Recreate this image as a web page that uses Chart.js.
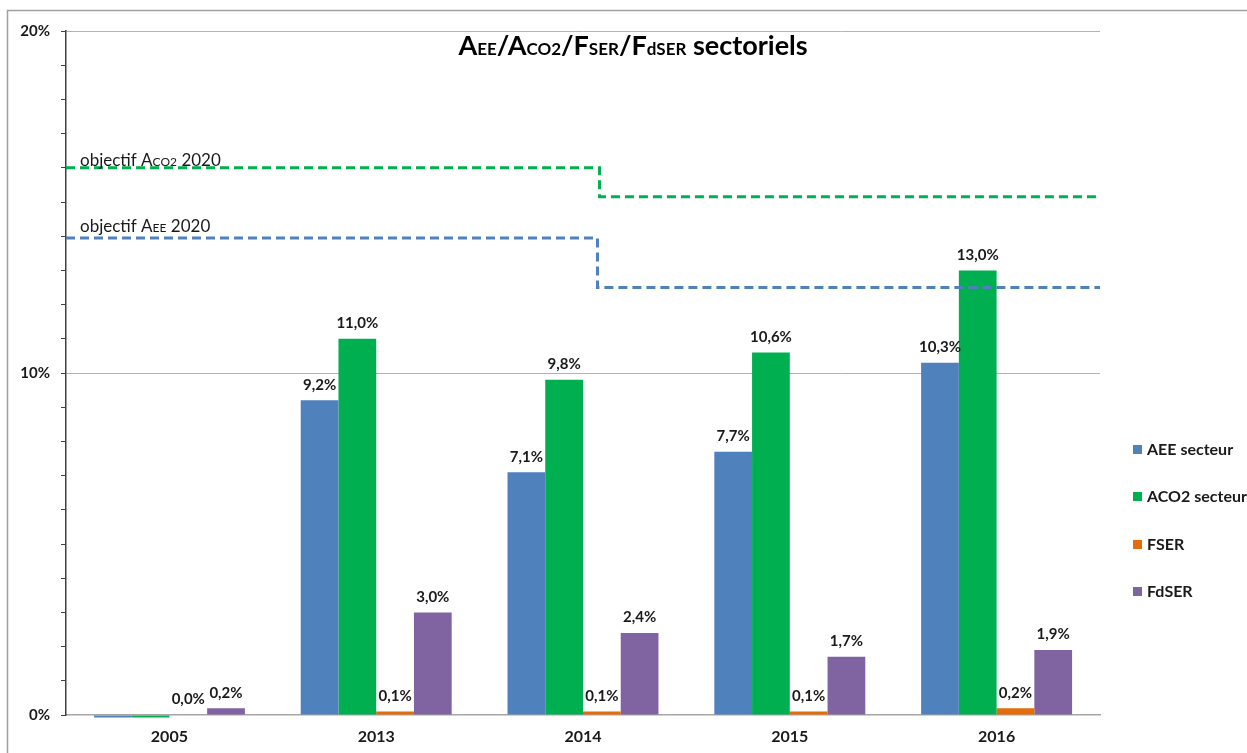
<!DOCTYPE html>
<html>
<head>
<meta charset="utf-8">
<script src="https://cdn.jsdelivr.net/npm/chart.js@4.4.1/dist/chart.umd.min.js"></script>
<style>
  html, body { margin: 0; padding: 0; background: #fff; }
  #wrap { width: 1247px; height: 753px; position: relative; }
</style>
</head>
<body>
<div id="wrap"><canvas id="chart" width="1247" height="753"></canvas></div>
<script>
'use strict';

const years = ['2005', '2013', '2014', '2015', '2016']
const aeeData = [-0.07, 9.2, 7.1, 7.7, 10.3]
const aco2Data = [-0.07, 11.0, 9.8, 10.6, 13.0]
const fserData = [0.0, 0.1, 0.1, 0.1, 0.2]
const fdserData = [0.2, 3.0, 2.4, 1.7, 1.9]
const yTickLabels = ['0%', '10%', '20%']

// objective steps: x in category index units (-0.5..4.5), y in %
const objAco2 = [{ x: -0.5, y: 16.0 }, { x: 2.08, y: 16.0 }, { x: 2.08, y: 15.15 }, { x: 4.5, y: 15.15 }]
const objAee = [{ x: -0.5, y: 13.95 }, { x: 2.07, y: 13.95 }, { x: 2.07, y: 12.5 }, { x: 4.5, y: 12.5 }]

const FONT = 'Lato, "Open Sans", sans-serif'
const colors = { aee: '#4F81BD', aco2: '#00B050', fser: '#E46C0A', fdser: '#8064A2' }

function fmt(v) {
    return v.toFixed(1).replace('.', ',') + '%'
}

// draws pieces of text of mixed sizes one after another
function drawRich(ctx, parts, x, y, weight) {
    let cx = x
    parts.forEach(p => {
        ctx.font = weight + ' ' + p[1] + 'px ' + FONT
        ctx.fillText(p[0], cx, y)
        cx += ctx.measureText(p[0]).width
    })
    return cx
}
function richWidth(ctx, parts, weight) {
    let w = 0
    parts.forEach(p => {
        ctx.font = weight + ' ' + p[1] + 'px ' + FONT
        w += ctx.measureText(p[0]).width
    })
    return w
}

const decorPlugin = {
    id: 'decor',
    beforeDraw(chart) {
        const ctx = chart.ctx
        ctx.save()
        ctx.fillStyle = '#fff'
        ctx.fillRect(0, 0, chart.width, chart.height)
        ctx.strokeStyle = '#a0a0a0'
        ctx.lineWidth = 1.5
        ctx.beginPath()
        ctx.moveTo(7.5, chart.height + 5)
        ctx.lineTo(7.5, 10.5)
        ctx.lineTo(chart.width + 5, 10.5)
        ctx.stroke()
        ctx.restore()
    },
    afterDatasetsDraw(chart) {
        const ctx = chart.ctx
        ctx.save()
        ctx.fillStyle = '#1a1a1a'
        ctx.textAlign = 'center'
        ctx.textBaseline = 'bottom'
        ctx.font = 'bold 15px ' + FONT
        chart.data.datasets.forEach((ds, i) => {
            if (ds.type === 'line') return
            chart.getDatasetMeta(i).data.forEach((bar, j) => {
                const v = ds.data[j].y
                if (v < 0) return
                ctx.fillText(fmt(v), bar.x, bar.y - 8)
            })
        })
        ctx.restore()
    },
    afterDraw(chart) {
        const ctx = chart.ctx
        ctx.save()
        ctx.fillStyle = '#000'
        ctx.textBaseline = 'alphabetic'
        // title
        const title = [['A', 27], ['EE', 17], ['/A', 27], ['CO2', 17], ['/F', 27], ['SER', 17], ['/F', 27], ['dSER', 17], [' sectoriels', 27]]
        const tw = richWidth(ctx, title, 'bold')
        drawRich(ctx, title, 633 - tw / 2, 55, 'bold')

        // objective labels
        ctx.fillStyle = '#1a1a1a'
        drawRich(ctx, [['objectif A', 17], ['CO2', 12], [' 2020', 17]], 80, 166, 'normal')
        drawRich(ctx, [['objectif A', 17], ['EE', 12], [' 2020', 17]], 80, 232, 'normal')

        // legend
        const items = [['AEE secteur', colors.aee], ['ACO2 secteur', colors.aco2], ['FSER', colors.fser], ['FdSER', colors.fdser]]
        const ys = [450, 497, 545, 592]
        ctx.textBaseline = 'middle'
        ctx.font = 'bold 16px ' + FONT
        items.forEach((it, k) => {
            ctx.fillStyle = it[1]
            ctx.fillRect(1133, ys[k] - 5, 9, 9)
            ctx.fillStyle = '#1a1a1a'
            ctx.fillText(it[0], 1147, ys[k])
        })
        ctx.restore()
    }
}

function barSet(label, data, color) {
    return {
        type: 'bar',
        label: label,
        data: data.map((v, i) => ({ x: i, y: v })),
        backgroundColor: color,
        borderWidth: 0,
        barPercentage: 1,
        categoryPercentage: 0.73,
        clip: false,
        order: 1
    }
}
function objSet(label, data, color) {
    return {
        type: 'line',
        label: label,
        data: data,
        borderColor: color,
        borderWidth: 3,
        borderDash: [9, 5],
        pointRadius: 0,
        tension: 0,
        fill: false,
        order: 0
    }
}

const ctx = document.getElementById('chart').getContext('2d')
const chart = new Chart(ctx, {
    type: 'bar',
    data: {
        datasets: [
            barSet('AEE secteur', aeeData, colors.aee),
            barSet('ACO2 secteur', aco2Data, colors.aco2),
            barSet('FSER', fserData, colors.fser),
            barSet('FdSER', fdserData, colors.fdser),
            objSet('objectif ACO2 2020', objAco2, '#00B050'),
            objSet('objectif AEE 2020', objAee, '#4F81BD')
        ]
    },
    options: {
        responsive: false,
        animation: false,
        layout: { padding: { left: 0, right: 147, top: 31, bottom: 0 } },
        plugins: {
            legend: { display: false },
            title: { display: false },
            tooltip: { enabled: false }
        },
        scales: {
            x: {
                type: 'linear',
                min: -0.5,
                max: 4.5,
                offset: false,
                afterBuildTicks: s => {
                    s.ticks = years.map((y, i) => ({ value: i }))
                },
                grid: { display: false, drawTicks: false },
                border: { color: '#a6a6a6', width: 1.5 },
                ticks: {
                    color: '#1a1a1a',
                    font: { family: FONT, size: 16, weight: 'bold' },
                    padding: 12,
                    maxRotation: 0,
                    autoSkip: false,
                    callback: v => years[v]
                },
                afterFit: s => { s.height = 38 }
            },
            y: {
                min: 0,
                max: 20,
                afterFit: s => { s.width = 66 },
                afterBuildTicks: s => {
                    s.ticks = []
                    for (let v = 0; v <= 20; v++) s.ticks.push({ value: v })
                },
                grid: {
                    color: c => (c.tick && c.tick.value % 10 === 0 && c.tick.value > 0) ? '#b3b3b3' : 'rgba(0,0,0,0)',
                    tickColor: '#404040',
                    tickLength: 5
                },
                border: { color: '#404040', width: 1.5 },
                ticks: {
                    padding: 11,
                    color: '#1a1a1a',
                    font: { family: FONT, size: 15, weight: 'bold' },
                    callback: v => (v % 10 === 0 ? yTickLabels[v / 10] : '')
                }
            }
        }
    },
    plugins: [decorPlugin]
})
</script>
</body>
</html>
